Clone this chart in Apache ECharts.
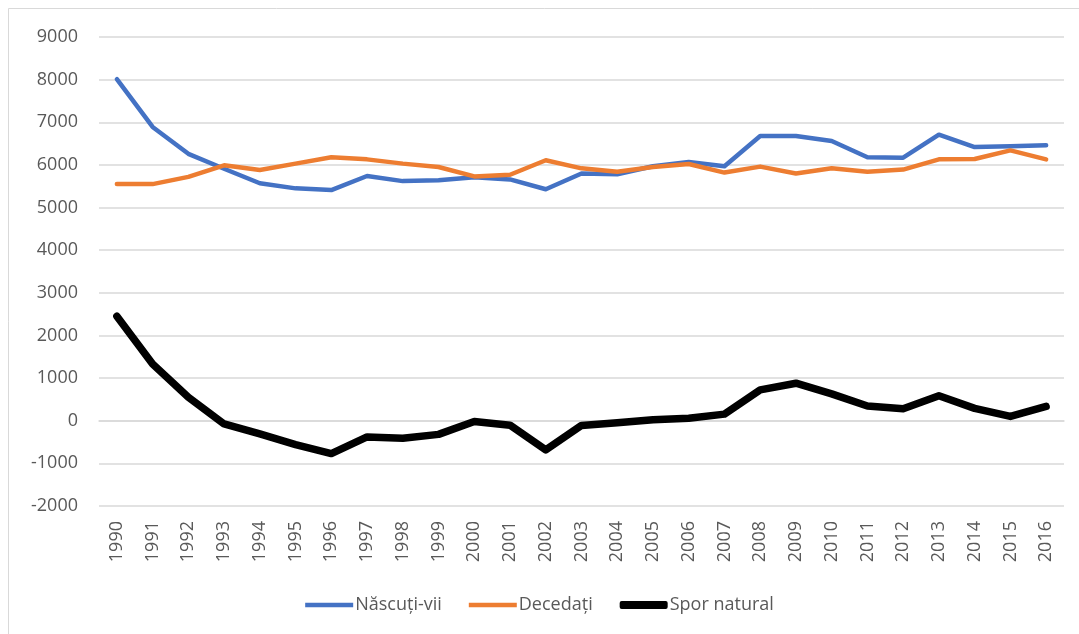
<!DOCTYPE html>
<html>
<head>
<meta charset="utf-8">
<script src="https://cdn.jsdelivr.net/npm/echarts@6/dist/echarts.min.js"></script>
<style>
  html, body { margin: 0; padding: 0; background: #fff; }
  #chart { width: 1079px; height: 634px; }
</style>
</head>
<body>
<div id="chart"></div>
<script>
var years = ['1990', '1991', '1992', '1993', '1994', '1995', '1996', '1997', '1998', '1999',
    '2000', '2001', '2002', '2003', '2004', '2005', '2006', '2007', '2008', '2009',
    '2010', '2011', '2012', '2013', '2014', '2015', '2016'];

// Născuți-vii
var nascuti = [8010, 6890, 6260, 5910, 5570, 5450, 5410, 5740, 5620, 5640,
    5710, 5660, 5430, 5800, 5780, 5970, 6070, 5970, 6680, 6680,
    6560, 6180, 6170, 6710, 6420, 6440, 6460];

// Decedați
var decedati = [5550, 5550, 5720, 5990, 5880, 6030, 6180, 6130, 6030, 5950,
    5730, 5770, 6110, 5920, 5840, 5950, 6020, 5820, 5960, 5800,
    5920, 5840, 5890, 6130, 6140, 6340, 6130];

// Spor natural
var spor = [2450, 1330, 550, -75, -310, -560, -770, -380, -410, -320,
    -20, -105, -685, -110, -50, 25, 60, 155, 725, 880,
    630, 345, 280, 585, 290, 100, 335];

var yTicks = { min: -2000, max: 9000, step: 1000 };

var myChart = echarts.init(document.getElementById('chart'));
var font = "'Open Sans', 'Liberation Sans', sans-serif";

var option = {
    backgroundColor: '#fff',
    animation: false,
    textStyle: { fontFamily: font },
    graphic: [{
        type: 'rect',
        shape: { x: 8.5, y: 8.5, width: 1100, height: 700 },
        style: { fill: 'none', stroke: '#d9d9d9', lineWidth: 1 },
        silent: true
    }],
    grid: {
        left: 99,
        right: 15,
        top: 37,
        bottom: 128
    },
    legend: {
        bottom: 15,
        left: 'center',
        itemWidth: 48,
        itemHeight: 8,
        itemGap: 27,
        symbolKeepAspect: true,
        textStyle: { fontSize: 18, color: '#595959', fontFamily: font, padding: [0, 0, 0, -3] },
        data: [
            { name: 'Născuți-vii', icon: 'path://M0,0H48V4.5H0Z' },
            { name: 'Decedați', icon: 'path://M0,0H48V4.5H0Z' },
            { name: 'Spor natural', icon: 'roundRect' }
        ]
    },
    xAxis: {
        type: 'category',
        data: years,
        boundaryGap: true,
        axisLine: { lineStyle: { color: '#d9d9d9', width: 1.5 } },
        axisTick: { show: false },
        axisLabel: {
            rotate: 90,
            margin: 15,
            fontSize: 18,
            color: '#595959',
            interval: 0
        }
    },
    yAxis: {
        type: 'value',
        min: yTicks.min,
        max: yTicks.max,
        interval: yTicks.step,
        axisLine: { show: false },
        axisTick: { show: false },
        axisLabel: {
            fontSize: 18,
            color: '#595959',
            margin: 21,
            formatter: function (v) { return String(v); }
        },
        splitLine: { lineStyle: { color: '#d9d9d9', width: 1.5 } }
    },
    series: [
        {
            name: 'Născuți-vii',
            type: 'line',
            data: nascuti,
            showSymbol: false,
            color: '#4472C4',
            lineStyle: { width: 4.5, color: '#4472C4', join: 'round', cap: 'round' }
        },
        {
            name: 'Decedați',
            type: 'line',
            data: decedati,
            showSymbol: false,
            color: '#ED7D31',
            lineStyle: { width: 4.5, color: '#ED7D31', join: 'round', cap: 'round' }
        },
        {
            name: 'Spor natural',
            type: 'line',
            data: spor,
            showSymbol: false,
            color: '#000000',
            lineStyle: { width: 7.5, color: '#000000', join: 'round', cap: 'round' }
        }
    ]
};

myChart.setOption(option);
</script>
</body>
</html>
